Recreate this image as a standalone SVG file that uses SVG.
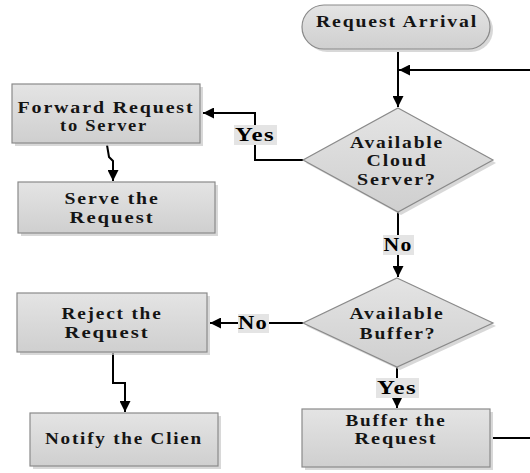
<svg xmlns="http://www.w3.org/2000/svg" width="530" height="473" viewBox="0 0 530 473">
<defs>
<linearGradient id="g" x1="0" y1="0" x2="0" y2="1">
<stop offset="0" stop-color="#e4e4e4"/>
<stop offset="1" stop-color="#cfcfcf"/>
</linearGradient>
<marker id="ah" viewBox="0 0 10 10" refX="10" refY="5" markerWidth="11" markerHeight="11" markerUnits="userSpaceOnUse" orient="auto">
<path d="M0,0 L10,5 L0,10 z" fill="#000"/>
</marker>
</defs>
<style>
.shape{fill:url(#g);stroke:#8a8a8a;stroke-width:1.2}
.shadow{fill:#c8c8c8;opacity:0.7}
.t{font-family:"Liberation Serif","Times New Roman",serif;font-weight:bold;font-size:16px;letter-spacing:1.5px;fill:#141414;text-anchor:middle;dominant-baseline:central}
.lbl{font-family:"Liberation Serif","Times New Roman",serif;font-weight:bold;font-size:18px;letter-spacing:1px;fill:#000;text-anchor:middle;dominant-baseline:central}
.lb{fill:#e4e4e4}
.c{fill:none;stroke:#000;stroke-width:2}
</style>
<rect width="530" height="473" fill="#fff"/>

<g id="connectors">
<path class="c" d="M398,52 L398,107" marker-end="url(#ah)"/>
<path class="c" d="M530,70 L399,70" marker-end="url(#ah)"/>
<path class="c" d="M303,160 L255,160 L255,113 L203,113" marker-end="url(#ah)"/>
<path class="c" d="M107,145 L109,157 L113,161 L113,181" marker-end="url(#ah)"/>
<path class="c" d="M398,212 L398,277" marker-end="url(#ah)"/>
<path class="c" d="M303,323 L210,323" marker-end="url(#ah)"/>
<path class="c" d="M113,353 L113,383 L125,383 L125,412" marker-end="url(#ah)"/>
<path class="c" d="M397,367 L397,408" marker-end="url(#ah)"/>
<path class="c" d="M493,438 L530,438"/>
<rect class="lb" x="234" y="125" width="43" height="20"/>
<text class="lbl" x="255" y="135" textLength="40" lengthAdjust="spacingAndGlyphs">Yes</text>
<rect class="lb" x="383" y="235" width="31" height="20"/>
<text class="lbl" x="398" y="245" textLength="29" lengthAdjust="spacingAndGlyphs">No</text>
<rect class="lb" x="238" y="314" width="31" height="19"/>
<text class="lbl" x="253" y="323" textLength="30" lengthAdjust="spacingAndGlyphs">No</text>
<rect class="lb" x="376" y="378" width="43" height="20"/>
<text class="lbl" x="397" y="388" textLength="40" lengthAdjust="spacingAndGlyphs">Yes</text>
</g>

<g id="request-arrival">
<rect class="shadow" x="305" y="8" width="188" height="44" rx="22"/>
<rect class="shape" x="302" y="5" width="188" height="44" rx="22"/>
<text class="t" x="397" y="21" textLength="162" lengthAdjust="spacingAndGlyphs">Request Arrival</text>
</g>

<g id="available-cloud-server">
<polygon class="shadow" points="401,111 496,163 401,215 306,163"/>
<polygon class="shape" points="398,108 493,160 398,212 303,160"/>
<text class="t" x="397" y="142" textLength="94" lengthAdjust="spacingAndGlyphs">Available</text>
<text class="t" x="397" y="160" textLength="61" lengthAdjust="spacingAndGlyphs">Cloud</text>
<text class="t" x="397" y="179" textLength="80" lengthAdjust="spacingAndGlyphs">Server?</text>
</g>

<g id="forward-request">
<rect class="shadow" x="15" y="87" width="188" height="59"/>
<rect class="shape" x="12" y="84" width="188" height="59"/>
<text class="t" x="106" y="107" textLength="177" lengthAdjust="spacingAndGlyphs">Forward Request</text>
<text class="t" x="104" y="125" textLength="88" lengthAdjust="spacingAndGlyphs">to Server</text>
</g>

<g id="serve-request">
<rect class="shadow" x="21" y="185" width="197" height="51"/>
<rect class="shape" x="18" y="182" width="197" height="51"/>
<text class="t" x="112" y="198" textLength="95" lengthAdjust="spacingAndGlyphs">Serve the</text>
<text class="t" x="112" y="217" textLength="85" lengthAdjust="spacingAndGlyphs">Request</text>
</g>

<g id="available-buffer">
<polygon class="shadow" points="400,281 496,326 400,370 306,326"/>
<polygon class="shape" points="397,278 493,323 397,367 303,323"/>
<text class="t" x="397" y="313" textLength="95" lengthAdjust="spacingAndGlyphs">Available</text>
<text class="t" x="398" y="333" textLength="77" lengthAdjust="spacingAndGlyphs">Buffer?</text>
</g>

<g id="reject-request">
<rect class="shadow" x="20" y="296" width="190" height="59"/>
<rect class="shape" x="17" y="293" width="190" height="59"/>
<text class="t" x="112" y="313" textLength="101" lengthAdjust="spacingAndGlyphs">Reject the</text>
<text class="t" x="107" y="332" textLength="85" lengthAdjust="spacingAndGlyphs">Request</text>
</g>

<g id="notify-client">
<rect class="shadow" x="33" y="416" width="188" height="53"/>
<rect class="shape" x="30" y="413" width="188" height="53"/>
<text class="t" x="124" y="438" textLength="158" lengthAdjust="spacingAndGlyphs">Notify the Clien</text>
</g>

<g id="buffer-request">
<rect class="shadow" x="305" y="412" width="188" height="58"/>
<rect class="shape" x="302" y="409" width="188" height="58"/>
<text class="t" x="396" y="420" textLength="101" lengthAdjust="spacingAndGlyphs">Buffer the</text>
<text class="t" x="396" y="438" textLength="83" lengthAdjust="spacingAndGlyphs">Request</text>
</g>
</svg>
